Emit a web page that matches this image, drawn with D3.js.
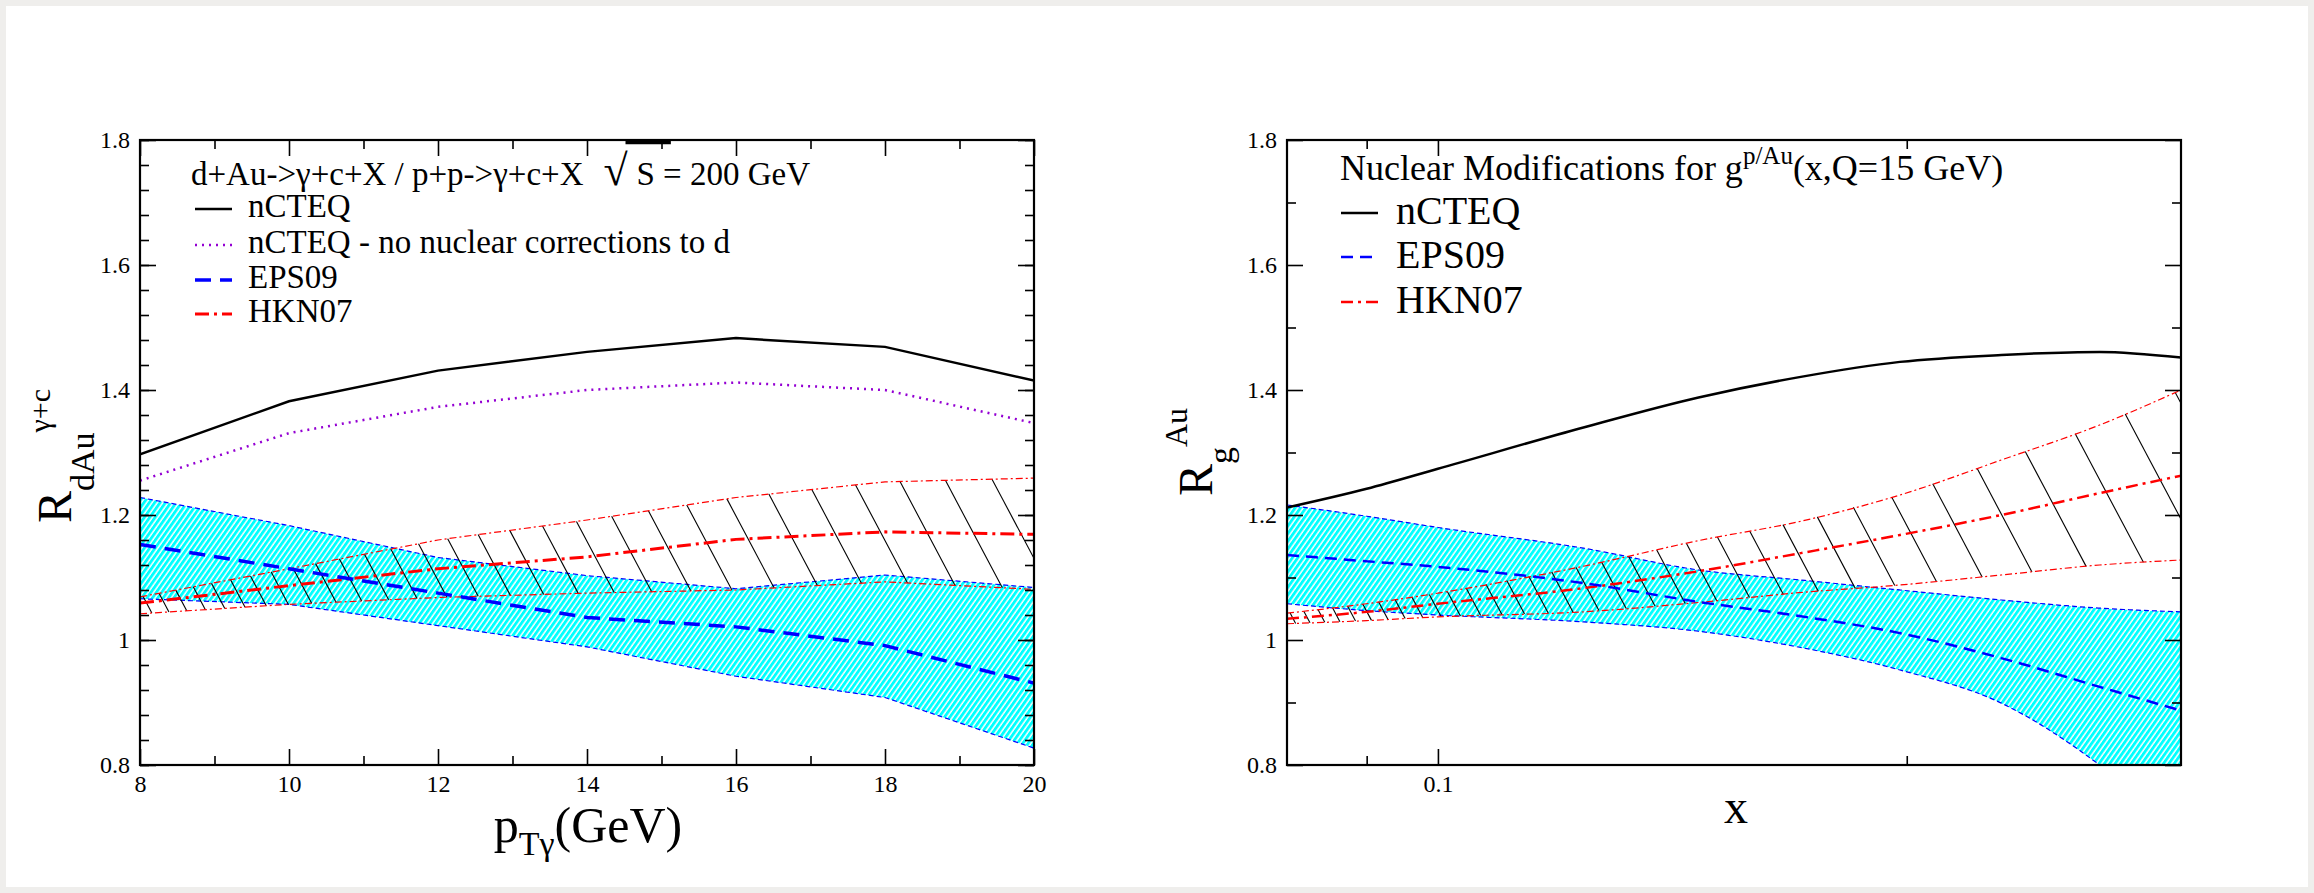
<!DOCTYPE html>
<html>
<head>
<meta charset="utf-8">
<script src="https://cdn.jsdelivr.net/npm/d3@7"></script>
<style>
body { margin: 0; background: #efeeec; }
svg { display: block; font-family: "Liberation Serif", "Times New Roman", serif; }
svg text { font-family: "Liberation Serif", "Times New Roman", serif; }
</style>
</head>
<body>
<svg width="2314" height="893"></svg>
<script>
// ---- left panel: R_dAu vs pT ----
var ptVals       = [8, 10, 12, 14, 16, 18, 20];
var ncteqPt      = [1.297, 1.382, 1.431, 1.461, 1.483, 1.469, 1.415];
var ncteqNoNucPt = [1.255, 1.331, 1.373, 1.400, 1.412, 1.400, 1.347];
var eps09Pt      = [1.153, 1.114, 1.075, 1.036, 1.021, 0.991, 0.931];
var eps09PtHi    = [1.228, 1.183, 1.132, 1.103, 1.082, 1.104, 1.084];
var eps09PtLo    = [1.066, 1.057, 1.023, 0.989, 0.942, 0.908, 0.827];
var hkn07Pt      = [1.059, 1.087, 1.114, 1.133, 1.161, 1.173, 1.169];
var hkn07PtHi    = [1.069, 1.114, 1.160, 1.192, 1.228, 1.253, 1.259];
var hkn07PtLo    = [1.042, 1.057, 1.068, 1.075, 1.080, 1.093, 1.081];

// ---- right panel: R_g^Au vs x ----
var xVals     = [0.08, 0.09, 0.1, 0.124, 0.147, 0.171, 0.198, 0.23, 0.266, 0.3];
var ncteqX    = [1.212, 1.242, 1.274, 1.340, 1.388, 1.421, 1.445, 1.456, 1.461, 1.452];
var eps09X    = [1.136, 1.126, 1.117, 1.091, 1.061, 1.038, 1.011, 0.971, 0.925, 0.887];
var eps09XHi  = [1.216, 1.198, 1.180, 1.147, 1.112, 1.096, 1.080, 1.064, 1.051, 1.045];
var eps09XLo  = [1.058, 1.047, 1.040, 1.029, 1.014, 0.988, 0.952, 0.899, 0.800, 0.690];
var hkn07X    = [1.034, 1.045, 1.058, 1.083, 1.110, 1.139, 1.168, 1.200, 1.235, 1.263];
var hkn07XHi  = [1.043, 1.058, 1.075, 1.118, 1.159, 1.190, 1.232, 1.288, 1.344, 1.400];
var hkn07XLo  = [1.026, 1.031, 1.037, 1.045, 1.060, 1.076, 1.088, 1.104, 1.120, 1.128];

// ticks
var yMajor = [0.8, 1, 1.2, 1.4, 1.6, 1.8];
var yTickLabels = ["0.8", "1", "1.2", "1.4", "1.6", "1.8"];
var yMinorLeft = d3.range(0, 26).map(function(i) { return +(0.8 + i * 0.04).toFixed(2); });
var yMinorRight = [0.9, 1.1, 1.3, 1.5, 1.7];
var ptMajor = [8, 10, 12, 14, 16, 18, 20];
var ptMinor = [9, 11, 13, 15, 17, 19];
var xMajor = [0.1];
var xTickLabels = ["0.1"];
var xMinor = [0.09, 0.2];

var svg = d3.select("svg");
svg.append("rect").attr("x", 6).attr("y", 6).attr("width", 2302).attr("height", 881).attr("fill", "#fff");

var defs = svg.append("defs");
var pat = defs.append("pattern").attr("id", "cyanStripe")
  .attr("width", 4.4).attr("height", 10).attr("patternUnits", "userSpaceOnUse")
  .attr("patternTransform", "rotate(35)");
pat.append("rect").attr("width", 4.4).attr("height", 10).attr("fill", "#fff");
pat.append("rect").attr("width", 2.9).attr("height", 10).attr("fill", "#00ffff");

var styles = {
  ncteq:    { stroke: "#000", width: 2.5, dash: null },
  noNuc:    { stroke: "#9400d3", width: 2.5, dash: "2,5" },
  eps:      { stroke: "#0000ff", width: 3.5, dash: "16,9" },
  epsR:     { stroke: "#0000ff", width: 2.5, dash: "12,7" },
  epsEdge:  { stroke: "#0000ff", width: 1.2, dash: "5,3" },
  hkn:      { stroke: "#ff0000", width: 3, dash: "14,5,3,5" },
  hknR:     { stroke: "#ff0000", width: 2.5, dash: "12,5,3,5" },
  hknEdge:  { stroke: "#ff0000", width: 1.2, dash: "7,3,2,3" }
};

function styled(sel, s) {
  sel.attr("fill", "none").attr("stroke", s.stroke).attr("stroke-width", s.width);
  if (s.dash) sel.attr("stroke-dasharray", s.dash);
  return sel;
}

function panel(opt) {
  var x = opt.x, y = opt.y;
  var g = svg.append("g");
  var clipId = "clip" + opt.id;
  defs.append("clipPath").attr("id", clipId).append("rect")
    .attr("x", x.range()[0]).attr("y", y.range()[1])
    .attr("width", x.range()[1] - x.range()[0]).attr("height", y.range()[0] - y.range()[1]);
  var plot = g.append("g").attr("clip-path", "url(#" + clipId + ")");

  var line = d3.line().curve(opt.curve)
    .x(function(d) { return x(d[0]); }).y(function(d) { return y(d[1]); });
  var area = d3.area().curve(opt.curve)
    .x(function(d) { return x(d[0]); })
    .y0(function(d) { return y(d[1]); }).y1(function(d) { return y(d[2]); });
  function pairs(v) { return opt.xs.map(function(xv, i) { return [xv, v[i]]; }); }

  // EPS09 band
  plot.append("path")
    .attr("d", area(opt.xs.map(function(xv, i) { return [xv, opt.epsLo[i], opt.epsHi[i]]; })))
    .attr("fill", "url(#cyanStripe)");
  styled(plot.append("path").attr("d", line(pairs(opt.epsHi))), styles.epsEdge);
  styled(plot.append("path").attr("d", line(pairs(opt.epsLo))), styles.epsEdge);

  // HKN07 band hatching
  var pxs = opt.xs.map(x);
  var up = d3.scaleLinear().domain(pxs).range(opt.hknHi.map(y)).clamp(true);
  var lo = d3.scaleLinear().domain(pxs).range(opt.hknLo.map(y)).clamp(true);
  var hatch = [];
  var px = x.range()[0] + 3;
  while (px < x.range()[1]) {
    var yt = up(px), h = lo(px) - yt;
    var bx = px;
    for (var k = 0; k < 5; k++) bx = px + 0.53 * (lo(bx) - yt);
    hatch.push([px, yt, bx, lo(bx)]);
    px += Math.min(10 + 0.35 * h, 50);
  }
  plot.selectAll("line.hatch").data(hatch).enter().append("line")
    .attr("x1", function(d) { return d[0]; }).attr("y1", function(d) { return d[1]; })
    .attr("x2", function(d) { return d[2]; }).attr("y2", function(d) { return d[3]; })
    .attr("stroke", "#000").attr("stroke-width", 1.1);
  styled(plot.append("path").attr("d", line(pairs(opt.hknHi))), styles.hknEdge);
  styled(plot.append("path").attr("d", line(pairs(opt.hknLo))), styles.hknEdge);

  // central lines
  styled(plot.append("path").attr("d", line(pairs(opt.hkn))), opt.hknStyle);
  styled(plot.append("path").attr("d", line(pairs(opt.eps))), opt.epsStyle);
  if (opt.noNuc) styled(plot.append("path").attr("d", line(pairs(opt.noNuc))), styles.noNuc);
  styled(plot.append("path").attr("d", line(pairs(opt.ncteq))), styles.ncteq);

  // axes (ticks inward on all four sides)
  var x0 = x.range()[0], x1 = x.range()[1], y0 = y.range()[0], y1 = y.range()[1];
  function ax(axis, tx, ty, vals, size, fmt) {
    var a = g.append("g").attr("transform", "translate(" + tx + "," + ty + ")")
      .call(axis.tickValues(vals).tickSize(-size).tickSizeOuter(0).tickPadding(10).tickFormat(fmt));
    a.select(".domain").remove();
    a.attr("font-size", 24);
    a.selectAll("text").attr("fill", "#000");
    a.selectAll("line").attr("stroke-width", 1.6);
    return a;
  }
  var none = function() { return ""; };
  ax(d3.axisBottom(x), 0, y0, opt.xMajor, 16, function(d, i) { return opt.xLabels[i]; });
  ax(d3.axisBottom(x), 0, y0, opt.xMinor, 9, none);
  ax(d3.axisTop(x), 0, y1, opt.xMajor, 16, none);
  ax(d3.axisTop(x), 0, y1, opt.xMinor, 9, none);
  ax(d3.axisLeft(y), x0, 0, yMajor, 16, function(d, i) { return yTickLabels[i]; });
  ax(d3.axisLeft(y), x0, 0, opt.yMinor, 9, none);
  ax(d3.axisRight(y), x1, 0, yMajor, 16, none);
  ax(d3.axisRight(y), x1, 0, opt.yMinor, 9, none);
  g.append("rect").attr("x", x0).attr("y", y1).attr("width", x1 - x0).attr("height", y0 - y1)
    .attr("fill", "none").attr("stroke", "#000").attr("stroke-width", 2.2);
  return g;
}

var xL = d3.scaleLinear().domain([8, 20]).range([140, 1034]);
var yL = d3.scaleLinear().domain([0.8, 1.8]).range([765, 140]);
panel({
  id: "L", x: xL, y: yL, curve: d3.curveLinear, xs: ptVals,
  ncteq: ncteqPt, noNuc: ncteqNoNucPt, eps: eps09Pt, epsHi: eps09PtHi, epsLo: eps09PtLo,
  hkn: hkn07Pt, hknHi: hkn07PtHi, hknLo: hkn07PtLo,
  epsStyle: styles.eps, hknStyle: styles.hkn,
  xMajor: ptMajor, xLabels: ptMajor.map(String), xMinor: ptMinor, yMinor: yMinorLeft
});

var xR = d3.scaleLog().domain([0.08, 0.3]).range([1287, 2181]);
var yR = d3.scaleLinear().domain([0.8, 1.8]).range([765, 140]);
panel({
  id: "R", x: xR, y: yR, curve: d3.curveMonotoneX, xs: xVals,
  ncteq: ncteqX, eps: eps09X, epsHi: eps09XHi, epsLo: eps09XLo,
  hkn: hkn07X, hknHi: hkn07XHi, hknLo: hkn07XLo,
  epsStyle: styles.epsR, hknStyle: styles.hknR,
  xMajor: xMajor, xLabels: xTickLabels, xMinor: xMinor, yMinor: yMinorRight
});

// ---- left legend ----
var tA = svg.append("text").attr("x", 191).attr("y", 185).attr("font-size", 33)
  .text("d+Au->\u03b3+c+X / p+p->\u03b3+c+X");
var radX = 191 + tA.node().getComputedTextLength() + 20;
svg.append("text").attr("x", radX).attr("y", 185).attr("font-size", 44).text("\u221a");
var sx = radX + 33;
var tS = svg.append("text").attr("x", sx).attr("y", 185).attr("font-size", 33).text("S");
var wS = tS.node().getComputedTextLength();
svg.append("line").attr("x1", sx - 11).attr("x2", sx + wS + 16).attr("y1", 142.5).attr("y2", 142.5)
  .attr("stroke", "#000").attr("stroke-width", 3.5);
svg.append("text").attr("x", sx + wS).attr("y", 185).attr("font-size", 33)
  .attr("xml:space", "preserve").text(" = 200 GeV");

var legL = [
  { label: "nCTEQ", s: styles.ncteq, y: 217 },
  { label: "nCTEQ - no nuclear corrections to d", s: styles.noNuc, y: 253 },
  { label: "EPS09", s: styles.eps, y: 288 },
  { label: "HKN07", s: styles.hkn, y: 322 }
];
legL.forEach(function(d) {
  styled(svg.append("line").attr("x1", 195).attr("x2", 232).attr("y1", d.y - 8).attr("y2", d.y - 8), d.s);
  svg.append("text").attr("x", 248).attr("y", d.y).attr("font-size", 33).text(d.label);
});

// ---- right legend ----
var tN = svg.append("text").attr("x", 1340).attr("y", 180).attr("font-size", 36);
tN.append("tspan").text("Nuclear Modifications for g");
tN.append("tspan").attr("font-size", 25).attr("dy", -16).text("p/Au");
tN.append("tspan").attr("dy", 16).text("(x,Q=15 GeV)");
var legR = [
  { label: "nCTEQ", s: styles.ncteq, y: 224 },
  { label: "EPS09", s: styles.epsR, y: 268 },
  { label: "HKN07", s: styles.hknR, y: 313 }
];
legR.forEach(function(d) {
  styled(svg.append("line").attr("x1", 1341).attr("x2", 1378).attr("y1", d.y - 11).attr("y2", d.y - 11), d.s);
  svg.append("text").attr("x", 1396).attr("y", d.y).attr("font-size", 40).text(d.label);
});

// ---- axis titles ----
var xl = svg.append("text").attr("x", 588).attr("y", 842).attr("text-anchor", "middle").attr("font-size", 50);
xl.append("tspan").text("p");
xl.append("tspan").attr("font-size", 34).attr("dy", 13).text("T\u03b3");
xl.append("tspan").attr("dy", -13).text("(GeV)");

svg.append("text").attr("x", 1736).attr("y", 823).attr("text-anchor", "middle").attr("font-size", 48).text("x");

var ylL = svg.append("text").attr("transform", "translate(71,456) rotate(-90)")
  .attr("text-anchor", "middle").attr("font-size", 48);
ylL.append("tspan").text("R");
ylL.append("tspan").attr("font-size", 34).attr("dy", 23).text("dAu");
ylL.append("tspan").attr("font-size", 30).attr("dy", -44).text("\u03b3+c");

var ylR = svg.append("text").attr("transform", "translate(1212,452) rotate(-90)")
  .attr("text-anchor", "middle").attr("font-size", 48);
ylR.append("tspan").text("R");
ylR.append("tspan").attr("font-size", 34).attr("dy", 20).text("g");
ylR.append("tspan").attr("font-size", 32).attr("dy", -45).text("Au");
</script>
</body>
</html>
